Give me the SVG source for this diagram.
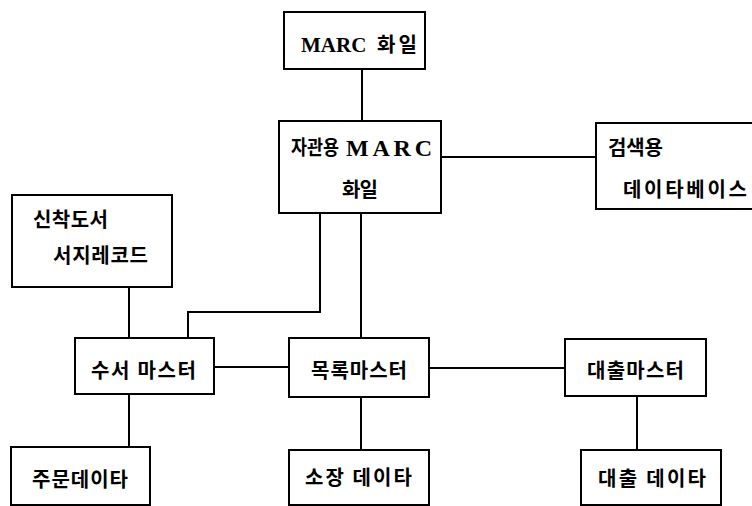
<svg xmlns="http://www.w3.org/2000/svg" width="752" height="506" viewBox="0 0 752 506">
<style>
rect.box{fill:#fff;stroke:#000;stroke-width:2}
.c{fill:none;stroke:#000;stroke-width:2}
text{font-family:"Noto Sans CJK KR","Noto Sans",sans-serif;font-size:20px;font-weight:700;fill:#000}
.m{font-family:"Liberation Serif","Noto Sans CJK KR",serif;font-size:21px;font-weight:700}
</style>
<rect width="752" height="506" fill="#fff"/>
<g id="connectors">
<path class="c" d="M362 69V121"/>
<path class="c" d="M441 157H596"/>
<path class="c" d="M361 213V338"/>
<path class="c" d="M320 213V312H188V338"/>
<path class="c" d="M129 287V338"/>
<path class="c" d="M214 367H289"/>
<path class="c" d="M429 368H565"/>
<path class="c" d="M129 394V447"/>
<path class="c" d="M361 397V450"/>
<path class="c" d="M637 396V450"/>
</g>
<g id="marc-file">
<rect class="box" x="284" y="12" width="141" height="57"/>
<text class="m" x="301" y="52">MARC</text>
<text x="377" y="52" textLength="40" lengthAdjust="spacing">화일</text>
</g>
<g id="local-marc">
<rect class="box" x="279" y="121" width="162" height="92"/>
<text x="291" y="155" textLength="48" lengthAdjust="spacingAndGlyphs">자관용</text>
<text class="m" x="346" y="156" style="font-size:24px" textLength="86" lengthAdjust="spacing">MARC</text>
<text x="342" y="197" textLength="36" lengthAdjust="spacing">화일</text>
</g>
<g id="search-db">
<rect class="box" x="596" y="123" width="170" height="86"/>
<text x="608" y="155" textLength="55" lengthAdjust="spacing">검색용</text>
<text x="623" y="197" textLength="124" lengthAdjust="spacing">데이타베이스</text>
</g>
<g id="new-books">
<rect class="box" x="12" y="195" width="160" height="92"/>
<text x="33" y="227" textLength="75" lengthAdjust="spacing">신착도서</text>
<text x="53" y="263" textLength="95" lengthAdjust="spacing">서지레코드</text>
</g>
<g id="acq-master">
<rect class="box" x="75" y="338" width="139" height="56"/>
<text x="91" y="378" textLength="105" lengthAdjust="spacing">수서 마스터</text>
</g>
<g id="cat-master">
<rect class="box" x="289" y="338" width="140" height="59"/>
<text x="311" y="378" textLength="96" lengthAdjust="spacing">목록마스터</text>
</g>
<g id="loan-master">
<rect class="box" x="565" y="339" width="141" height="57"/>
<text x="587" y="378" textLength="97" lengthAdjust="spacing">대출마스터</text>
</g>
<g id="order-data">
<rect class="box" x="11" y="447" width="139" height="58"/>
<text x="32" y="487" textLength="96" lengthAdjust="spacing">주문데이타</text>
</g>
<g id="holding-data">
<rect class="box" x="289" y="450" width="140" height="55"/>
<text x="305" y="485" textLength="107" lengthAdjust="spacing">소장 데이타</text>
</g>
<g id="loan-data">
<rect class="box" x="581" y="450" width="140" height="55"/>
<text x="598" y="486" textLength="108" lengthAdjust="spacing">대출 데이타</text>
</g>
</svg>
